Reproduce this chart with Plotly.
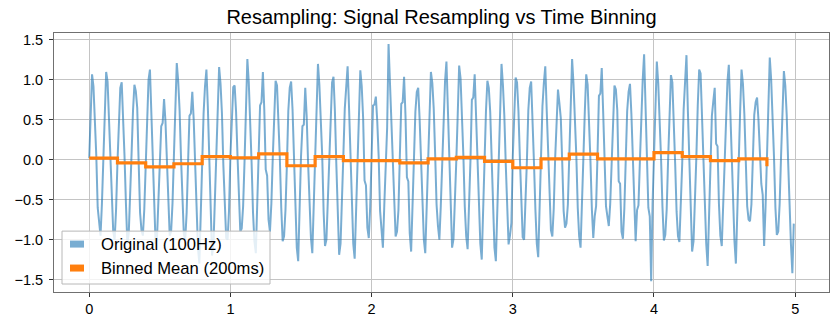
import plotly.graph_objects as go

# ---------------- data ----------------
SAMPLE_RATE_HZ = 100      # original signal sampling rate
BIN_WIDTH_S = 0.2         # binning window (200 ms)

signal_0s = [
    0.02, 0.62, 1.07, 0.92, 0.55, 0.05, -0.60, -0.74, -0.95, -0.55,
    0.05, 0.66, 1.10, 0.98, 0.52, -0.08, -0.62, -0.90, -1.00, -0.63,
    -0.03, 0.55, 0.90, 0.97, 0.60, 0.04, -0.55, -1.05, -0.92, -0.50,
    0.08, 0.61, 0.94, 0.86, 0.65, -0.02, -0.66, -0.88, -0.95, -0.62,
    -0.05, 0.54, 1.00, 1.13, 0.57, 0.10, -0.52, -1.05, -0.98, -0.57,
    0.02, 0.42, 0.46, 0.76, 0.48, -0.06, -0.63, -0.95, -0.90, -0.54,
    0.06, 0.65, 1.21, 0.99, 0.62, 0.03, -0.57, -0.93, -1.00, -0.66,
    -0.04, 0.55, 0.58, 0.85, 0.50, -0.05, -0.68, -1.10, -1.30, -0.60,
    0.10, 0.58, 0.92, 1.13, 0.67, 0.02, -0.61, -1.20, -1.05, -0.52,
    0.00, 0.63, 1.16, 0.95, 0.58, -0.07, -0.55, -0.98, -1.00, -0.64,
]
signal_1s = [
    0.05, 0.52, 0.91, 0.93, 0.60, 0.06, -0.59, -0.90, -0.86, -0.58,
    -0.02, 0.70, 1.26, 0.97, 0.53, -0.04, -0.66, -1.02, -1.17, -0.61,
    0.07, 0.68, 0.72, 1.10, 0.62, -0.12, -0.20, -0.75, -0.90, -0.55,
    0.03, 0.59, 0.99, 0.93, 0.50, 0.02, -0.60, -1.02, -0.96, -0.63,
    -0.06, 0.61, 0.90, 0.98, 0.63, 0.05, -0.62, -1.10, -1.27, -0.58,
    0.04, 0.42, 0.44, 0.90, 0.55, -0.03, -0.57, -0.97, -1.17, -0.64,
    0.01, 0.66, 1.20, 0.94, 0.58, 0.06, -0.65, -1.08, -1.00, -0.55,
    -0.03, 0.57, 0.97, 1.04, 0.61, -0.05, -0.53, -1.19, -1.05, -0.60,
    0.06, 0.64, 1.00, 1.17, 0.66, 0.00, -0.62, -1.05, -1.24, -0.67,
    -0.01, 0.55, 1.12, 0.92, 0.52, -0.26, -0.32, -0.85, -0.98, -0.59,
]
signal_2s = [
    0.03, 0.68, 0.69, 0.79, 0.48, 0.04, -0.64, -0.95, -1.10, -0.56,
    -0.04, 0.40, 1.45, 0.98, 0.60, -0.02, -0.58, -0.96, -0.90, -0.63,
    0.05, 0.70, 0.72, 1.04, 0.55, -0.22, -0.27, -0.92, -1.15, -0.57,
    0.02, 0.60, 0.85, 0.90, 0.51, 0.03, -0.61, -1.00, -1.17, -0.62,
    -0.05, 0.58, 1.10, 0.96, 0.64, 0.07, -0.56, -0.83, -1.00, -0.58,
    0.04, 0.63, 0.98, 1.23, 0.59, -0.04, -0.63, -1.10, -0.99, -0.55,
    0.00, 0.57, 1.18, 1.02, 0.62, 0.05, -0.59, -0.96, -1.12, -0.64,
    -0.02, 0.75, 0.78, 1.07, 0.56, -0.06, -0.65, -1.05, -1.25, -0.60,
    0.07, 0.61, 0.99, 0.90, 0.60, 0.02, -0.57, -1.10, -1.27, -0.62,
    -0.03, 0.66, 1.20, 0.94, 0.55, -0.05, -0.63, -1.06, -0.95, -0.79,
]
signal_3s = [
    0.04, 0.56, 1.03, 0.97, 0.61, 0.03, -0.60, -0.97, -1.00, -0.57,
    -0.01, 0.62, 0.90, 0.98, 0.57, -0.04, -0.62, -1.05, -1.22, -0.60,
    0.05, 0.67, 0.96, 1.17, 0.63, 0.06, -0.55, -0.88, -0.96, -0.61,
    0.02, 0.58, 0.88, 0.71, 0.52, -0.03, -0.64, -0.85, -0.80, -0.56,
    -0.04, 0.64, 1.26, 0.95, 0.58, 0.04, -0.60, -0.96, -1.10, -0.63,
    0.03, 0.60, 1.07, 0.94, 0.55, -0.02, -0.62, -0.98, -0.71, -0.58,
    0.06, 0.80, 0.83, 1.15, 0.60, 0.05, -0.58, -0.71, -0.83, -0.55,
    -0.02, 0.57, 0.93, 0.88, 0.62, -0.27, -0.30, -0.90, -0.99, -0.61,
    0.04, 0.61, 0.85, 0.95, 0.57, 0.03, -0.63, -1.02, -0.63, -0.57,
    -0.03, 0.66, 1.00, 1.32, 0.64, -0.04, -0.60, -0.71, -1.52, -0.55,
]
signal_4s = [
    0.05, 0.70, 1.23, 0.96, 0.58, 0.02, -0.59, -1.01, -0.94, -0.62,
    0.00, 0.59, 1.06, 0.97, 0.54, -0.05, -0.65, -0.96, -1.03, -0.58,
    -0.04, 0.63, 1.00, 1.31, 0.61, 0.04, -0.57, -1.15, -1.02, -0.60,
    0.03, 0.68, 1.13, 1.08, 0.59, -0.03, -0.62, -1.05, -1.33, -0.64,
    0.02, 0.55, 0.73, 0.90, 0.20, 0.17, -0.55, -0.95, -1.08, -0.57,
    -0.02, 0.62, 0.97, 1.19, 0.63, 0.05, -0.61, -1.02, -1.30, -0.59,
    0.04, 0.60, 1.13, 0.95, 0.57, -0.04, -0.58, -0.75, -0.77, -0.56,
    0.01, 0.56, 0.72, 0.78, 0.50, 0.00, -0.30, -0.44, -1.08, -0.60,
    -0.03, 0.64, 1.28, 1.00, 0.59, 0.03, -0.60, -0.94, -0.90, -0.55,
    0.05, 0.58, 1.11, 0.93, 0.56, -0.02, -0.63, -1.06, -1.42, -0.80,
]

binned_mean = [
    0.02, -0.04, -0.09, -0.05, 0.04,
    0.025, 0.075, -0.075, 0.04, -0.01,
    -0.01, -0.04, 0.01, 0.03, -0.02,
    -0.10, 0.01, 0.07, 0.01, 0.01,
    0.09, 0.04, -0.01, 0.01, -0.08,
]

x_ticks = [0, 1, 2, 3, 4, 5]
y_ticks = [-1.5, -1.0, -0.5, 0.0, 0.5, 1.0, 1.5]

title_text = "Resampling: Signal Resampling vs Time Binning"
label_original = "Original (100Hz)"
label_binned = "Binned Mean (200ms)"

# ---------------- derived ----------------
signal = signal_0s + signal_1s + signal_2s + signal_3s + signal_4s
t = [i / SAMPLE_RATE_HZ for i in range(len(signal))]
bin_start = [i * BIN_WIDTH_S for i in range(len(binned_mean))]

BLUE = "rgba(31,119,180,0.6)"
ORANGE = "#ff7f0e"
FONT = "Liberation Sans, Arial, Helvetica, sans-serif"

fig = go.Figure()
fig.add_trace(go.Scatter(x=t, y=signal, mode="lines", name=label_original,
                         line=dict(color=BLUE, width=2), showlegend=False))
fig.add_trace(go.Scatter(x=bin_start, y=binned_mean, mode="lines", name=label_binned,
                         line=dict(color=ORANGE, width=3.2, shape="hv"), showlegend=False))

# plot area in pixels: left 54, right 829, top 33, bottom 292.5
PL, PR, PT, PB = 54.0, 829.0, 33.0, 292.5
W, H = PR - PL, PB - PT
def px(x): return (x - PL) / W
def py(y): return (PB - y) / H

shapes = [
    dict(type="rect", xref="paper", yref="paper", layer="above",
         x0=px(62), x1=px(270), y0=py(284.5), y1=py(231.5),
         fillcolor="rgba(255,255,255,0.8)", line=dict(color="#b8b8b8", width=1)),
    dict(type="rect", xref="paper", yref="paper", layer="above",
         x0=px(70), x1=px(84), y0=py(248), y1=py(241),
         fillcolor=BLUE, line=dict(width=0)),
    dict(type="rect", xref="paper", yref="paper", layer="above",
         x0=px(70), x1=px(84), y0=py(272), y1=py(265),
         fillcolor=ORANGE, line=dict(width=0)),
]
annotations = [
    dict(text=label_original, xref="paper", yref="paper", x=px(98.5), y=py(245),
         xanchor="left", yanchor="middle", showarrow=False,
         font=dict(family=FONT, size=16.6, color="#000000")),
    dict(text=label_binned, xref="paper", yref="paper", x=px(98.5), y=py(268.5),
         xanchor="left", yanchor="middle", showarrow=False,
         font=dict(family=FONT, size=16.6, color="#000000")),
]

axis_common = dict(showgrid=True, gridcolor="#c4c4c4", gridwidth=1, zeroline=False,
                   showline=True, mirror=True, linecolor="#707070", linewidth=1,
                   ticks="outside", ticklen=4, tickwidth=1, tickcolor="#333333",
                   tickfont=dict(family=FONT, size=14.5, color="#000000"))

fig.update_layout(
    width=838, height=329,
    margin=dict(l=PL, r=838 - PR, t=PT, b=329 - PB),
    paper_bgcolor="white", plot_bgcolor="white",
    title=dict(text=title_text, x=0.5, xref="paper", y=1 - 17 / 329, yref="container",
               xanchor="center", yanchor="middle",
               font=dict(family=FONT, size=20, color="#000000")),
    xaxis=dict(range=[-0.2495, 5.2395], tickvals=x_ticks, **axis_common),
    yaxis=dict(range=[-1.656, 1.5875], tickvals=y_ticks, tickformat=".1f",
               ticklabelstandoff=3, **axis_common),
    shapes=shapes, annotations=annotations, showlegend=False,
)

fig.write_html("out.html")
